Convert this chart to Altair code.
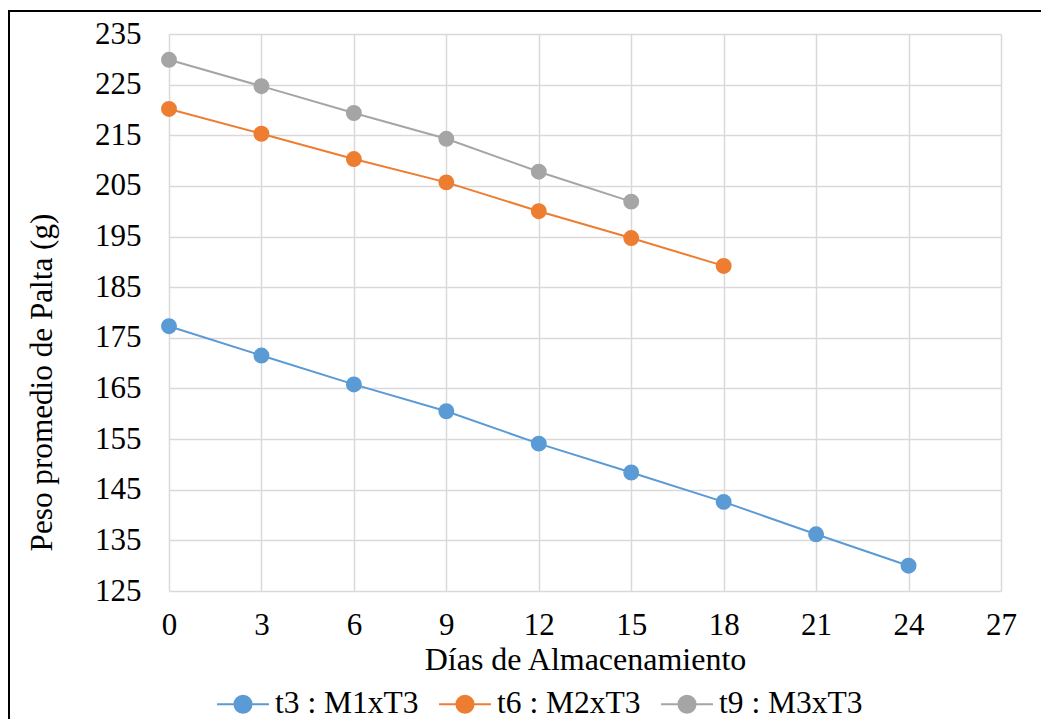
import altair as alt
import pandas as pd

dias_t3 = [0, 3, 6, 9, 12, 15, 18, 21, 24]
peso_t3 = [177.3, 171.5, 165.8, 160.5, 154.1, 148.4, 142.6, 136.2, 130.0]
dias_t6 = [0, 3, 6, 9, 12, 15, 18]
peso_t6 = [220.2, 215.3, 210.3, 205.7, 200.0, 194.7, 189.2]
dias_t9 = [0, 3, 6, 9, 12, 15]
peso_t9 = [229.9, 224.7, 219.4, 214.3, 207.8, 201.9]
series = ["t3 : M1xT3", "t6 : M2xT3", "t9 : M3xT3"]
colores = ["#5B9BD5", "#ED7D31", "#A5A5A5"]
x_ticks = [0, 3, 6, 9, 12, 15, 18, 21, 24, 27]
y_ticks = [125, 135, 145, 155, 165, 175, 185, 195, 205, 215, 225, 235]

rows = []
for name, xs, ys in zip(series, [dias_t3, dias_t6, dias_t9], [peso_t3, peso_t6, peso_t9]):
    for d, p in zip(xs, ys):
        rows.append({"Serie": name, "Dias": d, "Peso": p})
df = pd.DataFrame(rows)

FONT = "Liberation Serif"

# legend symbol: short line through a filled circle (box 30px, path reaches beyond)
legend_path = "M-1.73,0L1.73,0M-0.57,0A0.57,0.57,0,1,1,0.57,0A0.57,0.57,0,1,1,-0.57,0"

color = alt.Color(
    "Serie:N",
    scale=alt.Scale(domain=series, range=colores),
    legend=alt.Legend(
        title=None,
        orient="none",
        direction="horizontal",
        legendX=58,
        legendY=654,
        symbolType=legend_path,
        symbolSize=900,
        symbolStrokeWidth=2,
        labelFont=FONT,
        labelFontSize=31.5,
        labelColor="#000000",
        labelOffset=16,
        columnPadding=16,
        symbolOpacity=1,
    ),
)

x = alt.X(
    "Dias:Q",
    scale=alt.Scale(domain=[0, 27], nice=False),
    axis=alt.Axis(
        values=x_ticks, title="Días de Almacenamiento", grid=True, ticks=False, tickSize=0,
        domain=False, labelPadding=19, titlePadding=4, labelFont=FONT, titleFont=FONT,
        labelFontSize=31, titleFontSize=32, labelFlush=False,
    ),
)
y = alt.Y(
    "Peso:Q",
    scale=alt.Scale(domain=[125, 235], nice=False, zero=False),
    axis=alt.Axis(
        values=y_ticks, title="Peso promedio de Palta (g)", grid=True, ticks=False, tickSize=0,
        domain=False, labelPadding=28, titlePadding=36, labelFont=FONT, titleFont=FONT,
        labelFontSize=31, titleFontSize=31.2, labelFlush=False, titleY=348,
    ),
)

base = alt.Chart(df)
lines = base.mark_line(strokeWidth=2).encode(x=x, y=y, color=color, detail="Serie:N")
points = base.mark_point(filled=True, size=254, opacity=1).encode(x=x, y=y, color=color)

frame_left = alt.Chart(df).mark_rule(color="#000000", strokeWidth=2, clip=False).encode(
    x=alt.value(-160), y=alt.value(-23), y2=alt.value(720)
)
frame_top = alt.Chart(df).mark_rule(color="#000000", strokeWidth=2, clip=False).encode(
    x=alt.value(-161), x2=alt.value(900), y=alt.value(-23)
)

chart = alt.layer(lines, points, frame_left, frame_top).properties(
    width=832,
    height=557,
    autosize=alt.AutoSizeParams(type="none"),
    padding={"left": 161, "top": 26, "right": 40, "bottom": 128},
).configure_view(stroke=None).configure_axis(
    labelColor="#000000",
    titleFontWeight="normal",
    titleColor="#000000",
    gridColor="#D9D9D9",
    gridWidth=1.5,
)

chart.save("out.html", embed_options={"renderer": "svg", "actions": False})
